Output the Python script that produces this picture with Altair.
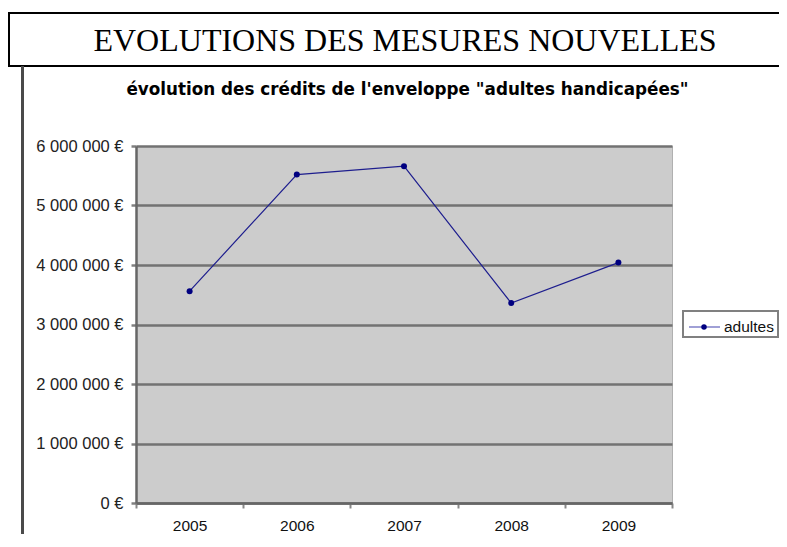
import altair as alt
import pandas as pd

# ---- data ----
years = ["2005", "2006", "2007", "2008", "2009"]
credits = [3560000, 5520000, 5660000, 3360000, 4040000]
series_name = "adultes"
y_ticks = [0, 1000000, 2000000, 3000000, 4000000, 5000000, 6000000]
main_title = "EVOLUTIONS DES MESURES NOUVELLES"
sub_title = "évolution des crédits de l'enveloppe \"adultes handicapées\""

df = pd.DataFrame({"annee": years, "credits": credits, "serie": [series_name] * len(years)})

W, H = 536, 357
SANS = "Liberation Sans"

x_enc = alt.X(
    "annee:O",
    sort=years,
    scale=alt.Scale(paddingInner=0, paddingOuter=0),
    axis=alt.Axis(
        title=None, labelAngle=0, tickBand="extent", grid=False,
        labelFont=SANS, labelFontSize=15.5, labelColor="#111111",
        labelPadding=10, tickSize=5, tickColor="#888888", tickWidth=2,
        domainColor="#666666", domainWidth=2.5,
    ),
)
y_enc = alt.Y(
    "credits:Q",
    scale=alt.Scale(domain=[0, 6000000], nice=False),
    axis=alt.Axis(
        title=None, values=y_ticks,
        labelExpr="datum.value == 0 ? '0 €' : format(datum.value / 1000000, 'd') + ' 000 000 €'",
        labelFont=SANS, labelFontSize=16.5, labelColor="#222222", labelPadding=8,
        tickSize=5, tickColor="#808080", tickWidth=2.5,
        domainColor="#666666", domainWidth=2.5,
        grid=True, gridColor="#727272", gridWidth=2.5,
    ),
)

base = alt.Chart(df)
line = base.mark_line(color="#1e1e8e", strokeWidth=1.2).encode(x=x_enc, y=y_enc)
pts = base.mark_point(filled=True, shape="circle", size=36, color="#000080", opacity=1).encode(x=x_enc, y=y_enc)

tdf = pd.DataFrame({"t": [main_title], "s": [sub_title]})
title_box = alt.Chart(tdf).mark_rect(fill="white", stroke="black", strokeWidth=2).encode(
    x=alt.value(-127), x2=alt.value(665), y=alt.value(-133), y2=alt.value(-80)
)
title_txt = alt.Chart(tdf).mark_text(
    font="Liberation Serif", fontSize=32, align="center", baseline="alphabetic", color="black"
).encode(x=alt.value(269), y=alt.value(-95), text="t:N")
left_bar = alt.Chart(tdf).mark_rule(color="#4a4a4a", strokeWidth=3).encode(
    x=alt.value(-113.5), y=alt.value(-80), y2=alt.value(400)
)
sub_txt = alt.Chart(tdf).mark_text(
    font="DejaVu Sans", fontSize=16.8, fontWeight="bold", align="center", baseline="alphabetic", color="black"
).encode(x=alt.value(271.5), y=alt.value(-51), text="s:N")

ldf = pd.DataFrame({"serie": [series_name]})
leg_box = alt.Chart(ldf).mark_rect(fill="white", stroke="#808080", strokeWidth=2).encode(
    x=alt.value(547), x2=alt.value(642), y=alt.value(165), y2=alt.value(191)
)
leg_line = alt.Chart(ldf).mark_rule(color="#8080c8", strokeWidth=1.5).encode(
    x=alt.value(553), x2=alt.value(584), y=alt.value(181)
)
leg_pt = alt.Chart(ldf).mark_point(filled=True, shape="circle", size=30, color="#000080", opacity=1).encode(
    x=alt.value(568), y=alt.value(181)
)
leg_txt = alt.Chart(ldf).mark_text(
    font=SANS, fontSize=15.5, align="left", baseline="alphabetic", color="#111111"
).encode(x=alt.value(588), y=alt.value(186), text="serie:N")

chart = alt.layer(
    title_box, title_txt, left_bar, sub_txt, line, pts, leg_box, leg_line, leg_pt, leg_txt
).properties(
    width=W, height=H,
    padding={"left": 128, "top": 138, "right": 107, "bottom": 31},
    autosize=alt.AutoSizeParams(type="none"),
).configure_view(
    fill="#cccccc", stroke="#b0b0b0", strokeWidth=1
)

chart.save("out.html", embed_options={"renderer": "svg", "actions": False})
